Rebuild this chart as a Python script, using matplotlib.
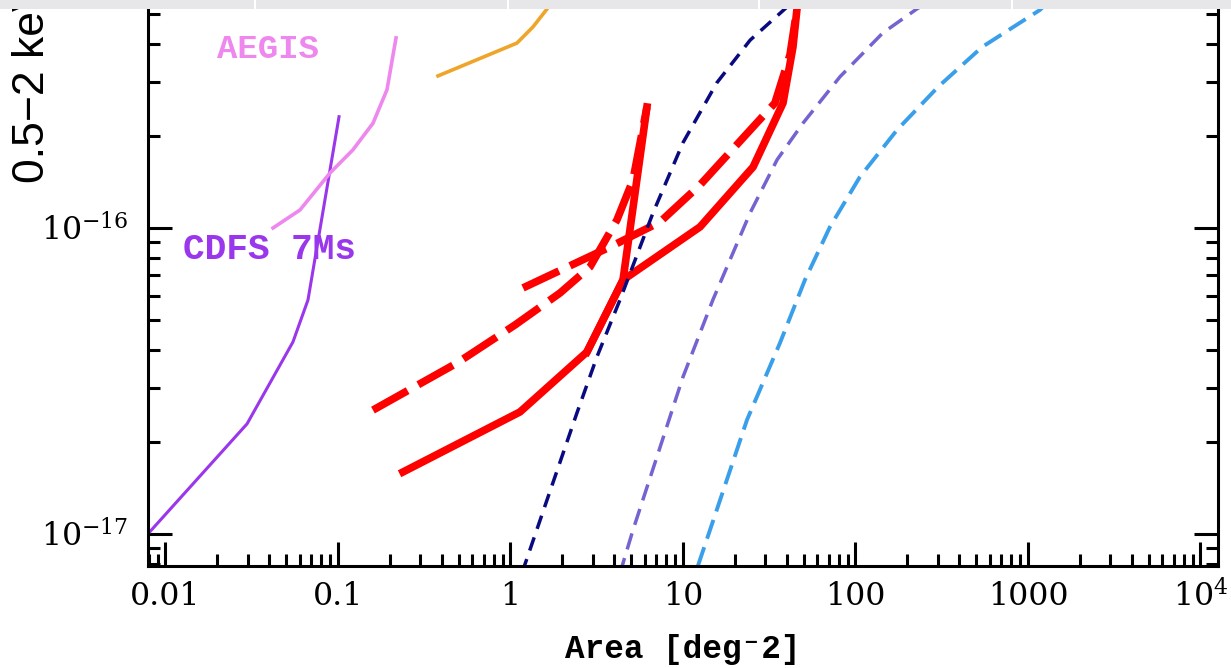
import matplotlib
matplotlib.use("Agg")
import matplotlib.pyplot as plt
from matplotlib.patches import Rectangle
from matplotlib.ticker import LogLocator, NullFormatter

plt.rcParams['mathtext.fontset'] = 'dejavuserif'

# area [deg^2] vs 0.5-2 keV flux limit
cdfs_area = [0.0079, 0.0297, 0.0548, 0.067, 0.1014]
cdfs_flux = [1.0e-17, 2.29e-17, 4.24e-17, 5.82e-17, 2.31e-16]

aegis_area = [0.042, 0.0602, 0.0899, 0.122, 0.1596, 0.1923, 0.217]
aegis_flux = [1.0e-16, 1.145e-16, 1.513e-16, 1.80e-16, 2.20e-16, 2.83e-16, 4.18e-16]

orange_area = [0.38, 1.09, 1.35, 1.63, 1.89]
orange_flux = [3.14e-16, 4.02e-16, 4.54e-16, 5.2e-16, 6.0e-16]

# red survey curves
solid_a_area = [0.238, 1.135, 2.776, 4.49, 12.55, 25.5, 38.0, 43.4, 45.8, 46.4]
solid_a_flux = [1.594e-17, 2.505e-17, 3.935e-17, 6.76e-17, 1.008e-16, 1.583e-16,
                2.56e-16, 3.90e-16, 5.2e-16, 6.0e-16]
solid_b_area = [2.776, 4.49, 6.18]
solid_b_flux = [3.935e-17, 6.76e-17, 2.485e-16]
dashed_a_area = [0.1595, 0.4897, 1.062, 1.936, 2.89, 4.14, 5.13, 6.18]
dashed_a_flux = [2.54e-17, 3.62e-17, 4.82e-17, 6.13e-17, 7.46e-17, 1.062e-16,
                 1.435e-16, 2.485e-16]
dashed_b_area = [1.182, 3.775, 7.36, 12.55, 34.1, 41.7, 45.8, 46.4]
dashed_b_flux = [6.37e-17, 8.67e-17, 1.046e-16, 1.382e-16, 2.56e-16, 3.68e-16,
                 5.2e-16, 6.0e-16]

# dashed model curves
navy_area = [1.17, 1.627, 2.43, 3.17, 4.31, 6.70, 10.0, 15.7, 24.5, 39.0, 47.6]
navy_flux = [7.5e-18, 1.29e-17, 2.49e-17, 3.79e-17, 5.82e-17, 1.12e-16, 1.90e-16,
             2.98e-16, 4.11e-16, 5.2e-16, 5.77e-16]

slate_area = [4.3, 5.13, 7.07, 10.0, 14.9, 24.5, 35.1, 49.6, 81.3, 144, 227, 330]
slate_flux = [7.4e-18, 1.03e-17, 1.79e-17, 3.26e-17, 5.82e-17, 1.12e-16, 1.67e-16,
              2.20e-16, 3.12e-16, 4.34e-16, 5.2e-16, 5.9e-16]

sky_area = [12.2, 16.4, 23.5, 36.5, 50.9, 71.1, 106, 174, 301, 541, 1174, 1533]
sky_flux = [7.86e-18, 1.29e-17, 2.36e-17, 4.21e-17, 6.76e-17, 1.008e-16, 1.468e-16,
            2.09e-16, 2.89e-16, 3.90e-16, 5.16e-16, 6.0e-16]

x_ticks = [0.01, 0.1, 1, 10, 100, 1000, 1e4]
x_labels = ['0.01', '0.1', '1', '10', '100', '1000', r'$10^4$']
y_ticks = [1e-17, 1e-16]
y_labels = [r'$10^{-17}$', r'$10^{-16}$']

fig = plt.figure(figsize=(12.31, 6.68), dpi=100)
ax = fig.add_axes([0.12023, 0.15314, 0.86921, 0.8768])
ax.set_xscale('log')
ax.set_yscale('log')

red = '#ff0000'
ax.plot(solid_a_area, solid_a_flux, color=red, lw=5.5, solid_joinstyle='miter')
ax.plot(solid_b_area, solid_b_flux, color=red, lw=5.5)
ax.plot(dashed_a_area, dashed_a_flux, color=red, lw=5.5, ls=(0, (5.2, 1.6)))
ax.plot(dashed_b_area, dashed_b_flux, color=red, lw=5.5, ls=(0, (5.2, 1.6)))

ax.plot(cdfs_area, cdfs_flux, color='#9a36ec', lw=2.2)
ax.plot(aegis_area, aegis_flux, color='#ee88ee', lw=2.6)
ax.plot(orange_area, orange_flux, color='#eea52a', lw=2.6)

ax.plot(navy_area, navy_flux, color='#0a0a80', lw=2.5, ls=(0, (4, 2.6)))
ax.plot(slate_area, slate_flux, color='#7463d0', lw=2.5, ls=(0, (4.8, 2.6)))
ax.plot(sky_area, sky_flux, color='#3a9fea', lw=2.8, ls=(0, (5.1, 2.3)))

ax.text(0.0199, 3.59e-16, 'AEGIS', color='#ee88ee', fontsize=24.5,
        family=['Liberation Mono', 'DejaVu Sans Mono'], weight='bold', va='baseline')
ax.text(0.01263, 7.92e-17, 'CDFS 7Ms', color='#9a36ec', fontsize=26,
        family=['Liberation Mono', 'DejaVu Sans Mono'], weight='bold', va='baseline')

ax.set_xlim(0.007918, 12634)
ax.set_ylim(7.876e-18, 6.462e-16)

ax.set_xticks(x_ticks, labels=x_labels)
ax.set_yticks(y_ticks, labels=y_labels)
ax.xaxis.set_minor_locator(LogLocator(base=10, subs=range(2, 10), numticks=50))
ax.yaxis.set_minor_locator(LogLocator(base=10, subs=range(2, 10), numticks=50))
ax.xaxis.set_minor_formatter(NullFormatter())
ax.yaxis.set_minor_formatter(NullFormatter())

for lab in ax.get_xticklabels() + ax.get_yticklabels():
    lab.set_family('DejaVu Serif')
    lab.set_fontsize(22.7)

ax.tick_params(which='both', direction='in', top=True, right=True, width=2.2, color='black')
ax.tick_params(which='major', length=17)
ax.tick_params(which='minor', length=8.6)
ax.tick_params(axis='x', which='major', pad=11)
ax.tick_params(axis='y', which='major', pad=14)
for sp in ax.spines.values():
    sp.set_linewidth(2.2)

fig.text(683 / 1231, 1 - 658 / 668, 'Area [deg\u207b2]', ha='center', va='baseline',
         fontsize=23.5, weight='bold', family=['Liberation Mono', 'DejaVu Sans Mono'])
fig.text(33 / 1231, 1 - 183 / 668, '0.5\u22122 keV', rotation=90, ha='center',
         va='bottom', fontsize=32, family=['Liberation Sans', 'DejaVu Sans'])

# grey strip across the top of the screenshot
fig.patches.append(Rectangle((0, 1 - 9 / 668), 1, 9 / 668, transform=fig.transFigure,
                             facecolor='#e7e7ea', edgecolor='none', zorder=5))
for px in [254, 507, 758, 1011]:
    fig.patches.append(Rectangle((px / 1231, 1 - 9 / 668), 2 / 1231, 9 / 668,
                                 transform=fig.transFigure, facecolor='white',
                                 edgecolor='none', zorder=6))

fig.savefig('out.png', dpi=100)
